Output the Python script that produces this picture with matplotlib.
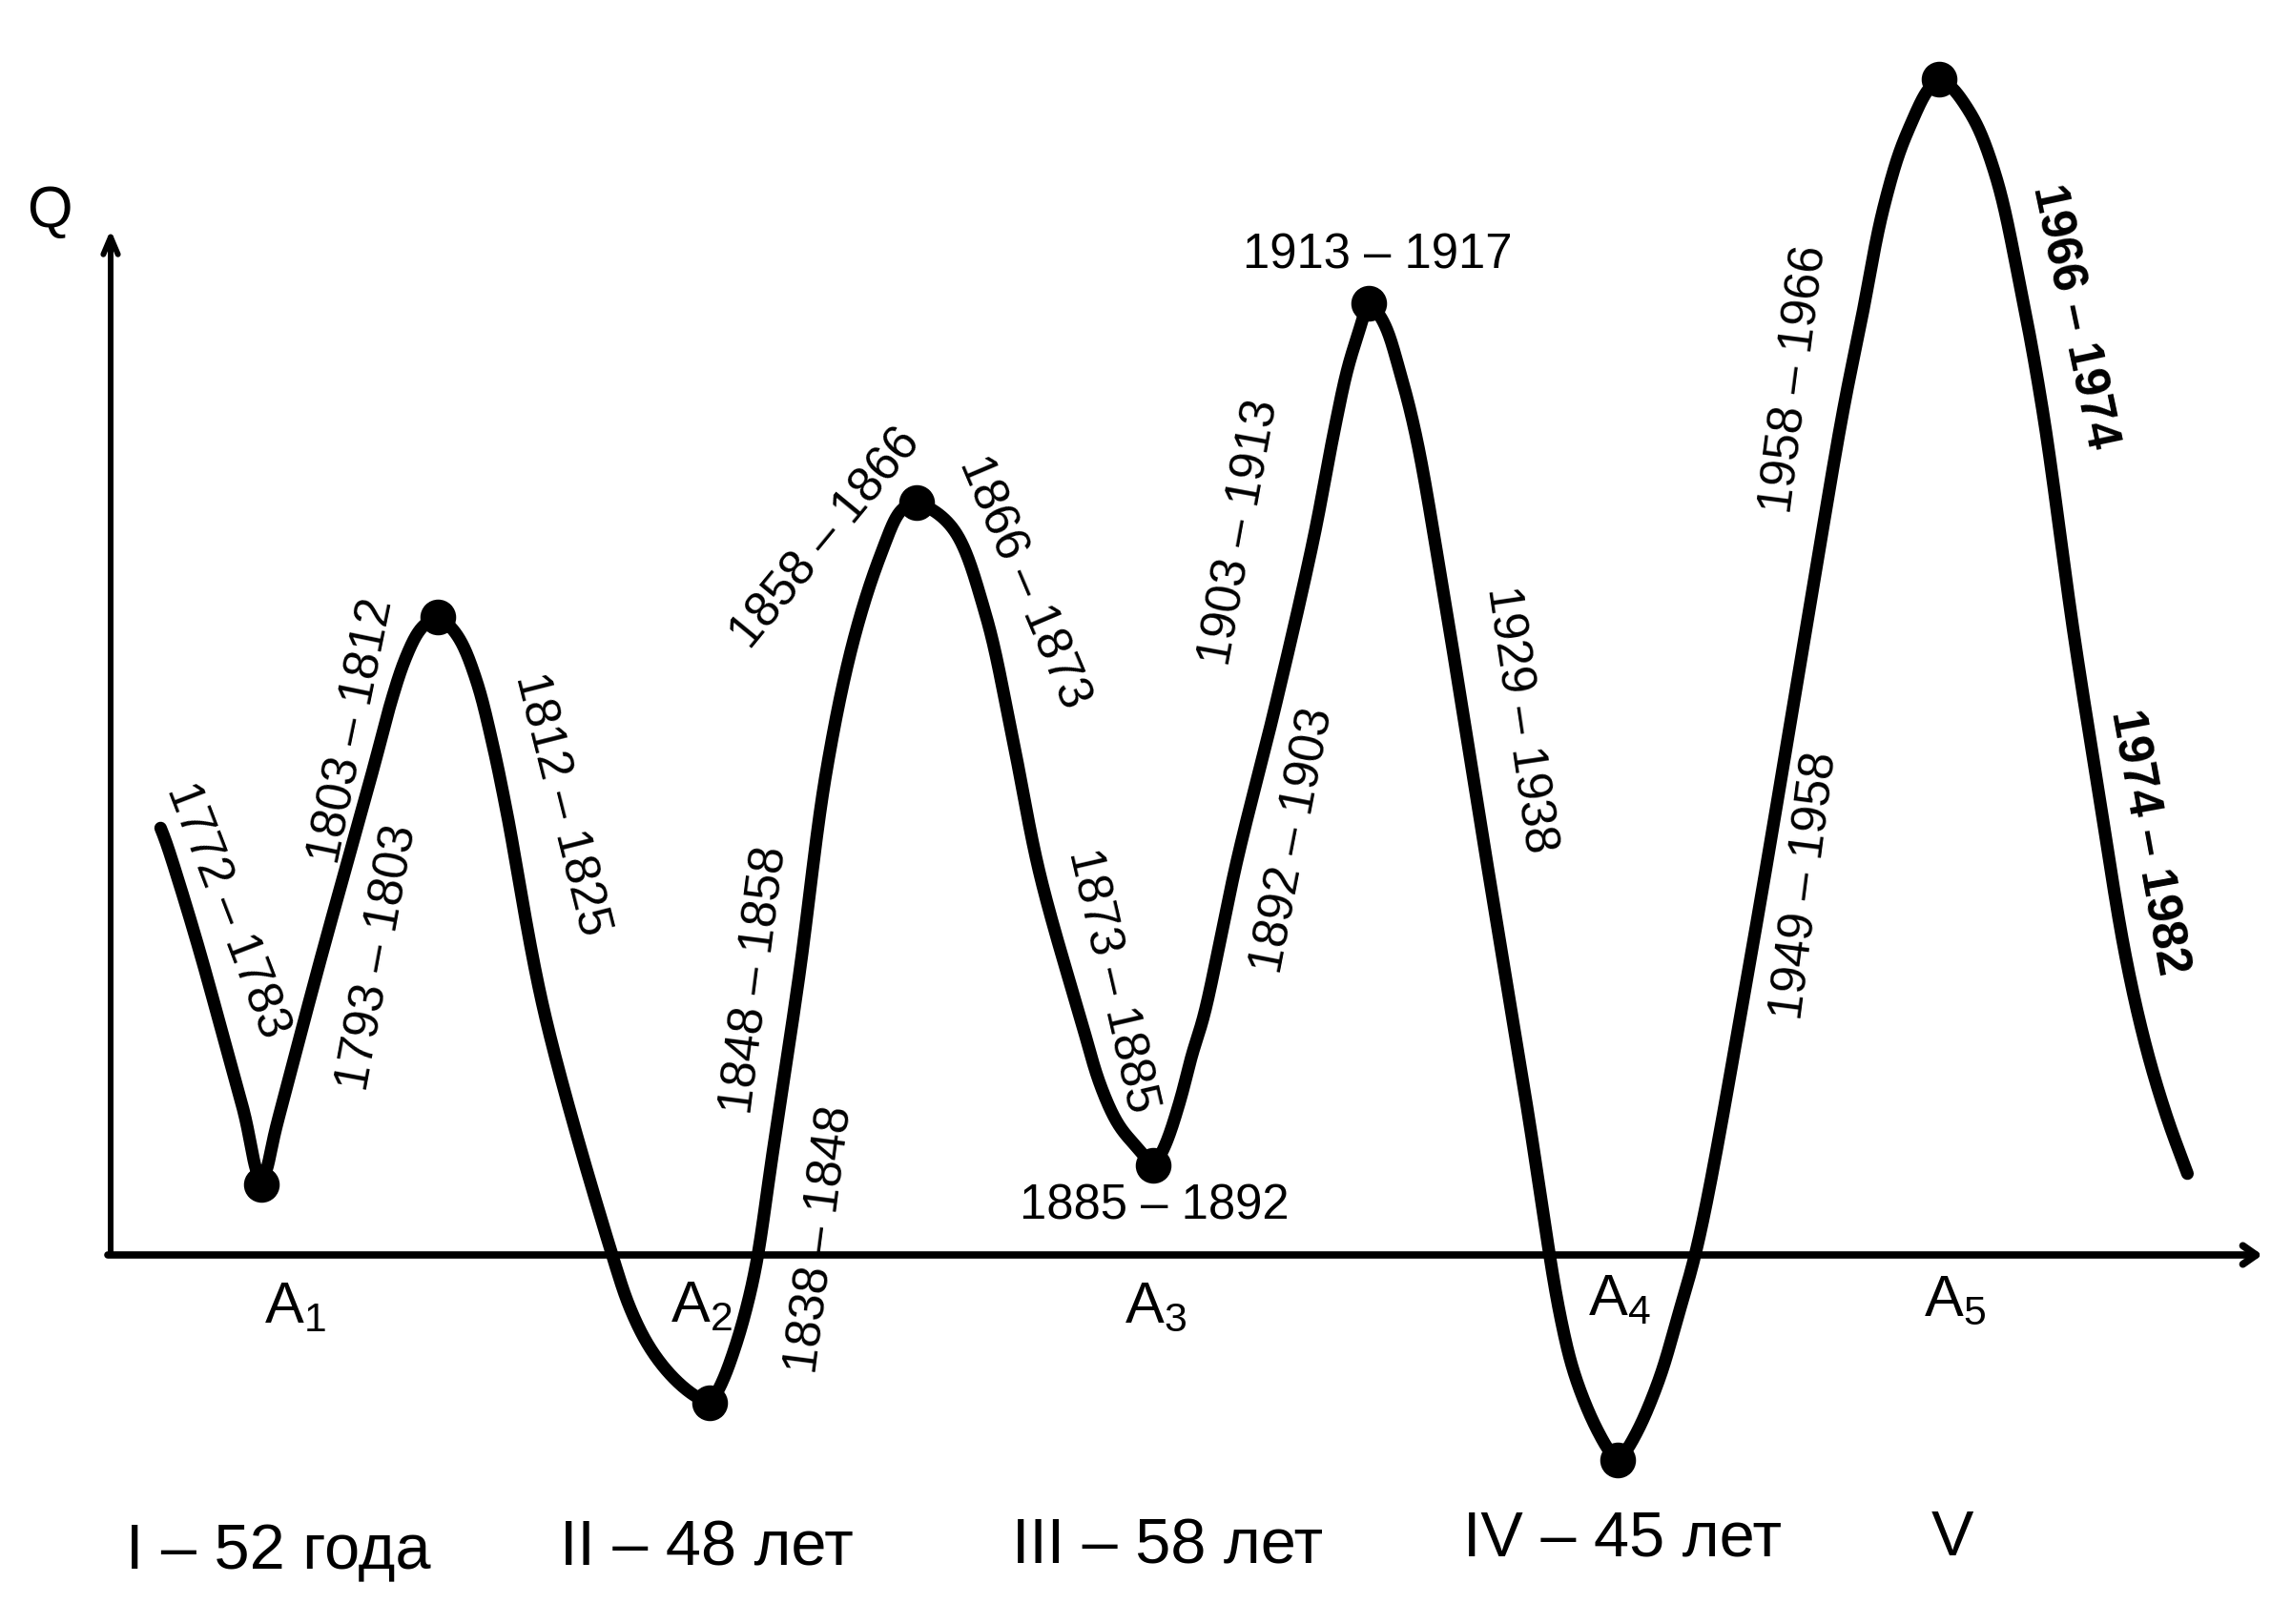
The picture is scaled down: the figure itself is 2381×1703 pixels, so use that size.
import numpy as np
import matplotlib
matplotlib.use("Agg")
import matplotlib.pyplot as plt

plt.rcParams['font.family'] = ['Liberation Sans', 'DejaVu Sans']

# ---------------- data ----------------
# wave path (x position, Q level; Q = 0 on the time axis)
curve_x = [167, 172, 190, 210, 233, 256, 274, 290, 335, 393, 410, 426, 443, 459,
           479, 499, 516, 531, 571, 644, 661, 681, 704, 727, 744, 756, 769, 781, 793,
           810, 838, 866, 895, 924, 947, 961, 998, 1033, 1062, 1090, 1134, 1154, 1174,
           1194, 1209, 1220, 1237, 1250, 1262, 1297, 1337, 1377, 1398, 1413, 1426, 1435,
           1450, 1468, 1485, 1511, 1560, 1601, 1636, 1653, 1679, 1696, 1713, 1739,
           1759, 1781, 1837, 1893, 1932, 1952, 1975, 2000, 2033, 2065, 2092, 2118,
           2142, 2174, 2200, 2228, 2250, 2272, 2295]
curve_q = [451, 439, 383, 316, 233, 149, 76, 136, 306, 516, 580, 628, 660, 669,
           651, 604, 538, 466, 253, -7, -57, -97, -127, -147, -155, -136, -102, -62, -9,
           106, 294, 505, 645, 736, 785, 789, 764, 673, 540, 400, 244, 177, 134,
           111, 94, 111, 161, 211, 250, 414, 575, 750, 860, 930, 972, 998,
           980, 925, 857, 709, 405, 155, -65, -132, -192, -215, -192, -132,
           -65, 16, 321, 653, 883, 983, 1099, 1178, 1233, 1199, 1133, 1016,
           883, 653, 487, 316, 218, 144, 81]

# turning points marked with dots
turn_x = [274, 459, 744, 961, 1209, 1435, 1696, 2033]
turn_q = [74, 669, -155, 789, 94, 998, -215, 1233]

# phase labels along the wave
phase_labels = ['1772 – 1783', '1793 – 1803', '1803 – 1812', '1812 – 1825',
                '1838 – 1848', '1848 – 1858', '1858 – 1866', '1866 – 1873',
                '1873 – 1885', '1885 – 1892', '1892 – 1903', '1903 – 1913',
                '1913 – 1917', '1929 – 1938', '1949 – 1958', '1958 – 1966',
                '1966 – 1974', '1974 – 1982']
phase_pos_x = [238, 397, 370, 588, 860, 792, 866, 1073, 1165, 1210, 1356, 1300,
               1444, 1593, 1893, 1882, 2174, 2252]
phase_pos_q = [361, 311, 549, 473, 16, 288, 751, 705, 288, 51, 434, 757,
               1048, 561, 387, 918, 984, 433]
phase_rot = [-69, 79.6, 78.4, -75.8, 82.6, 82.7, 50.5, -67, -77, 0, 79, 79.7,
             0, -81.6, 82.7, 82.7, -78, -79.7]
phase_bold = [False] * 16 + [True, True]

# trough markers on the time axis
a_labels = ['1', '2', '3', '4', '5']
a_pos_x = [309, 735, 1212, 1698, 2050]
a_pos_q = [-56, -55, -55, -48, -48]

# long-wave periods
period_labels = ['I – 52 года', 'II – 48 лет', 'III – 58 лет', 'IV – 45 лет', 'V']
period_pos_x = [292, 741, 1224, 1701, 2047]
period_pos_q = [-312, -309, -306, -298, -298]


def catmull_rom(px, py, n_seg=60, alpha=0.5):
    P = np.column_stack([px, py]).astype(float)
    P = np.vstack([2 * P[0] - P[1], P, 2 * P[-1] - P[-2]])
    out = []
    for i in range(1, len(P) - 2):
        p0, p1, p2, p3 = P[i - 1], P[i], P[i + 1], P[i + 2]
        t0 = 0.0
        t1 = t0 + np.linalg.norm(p1 - p0) ** alpha
        t2 = t1 + np.linalg.norm(p2 - p1) ** alpha
        t3 = t2 + np.linalg.norm(p3 - p2) ** alpha
        t = np.linspace(t1, t2, n_seg, endpoint=False)[:, None]
        a1 = (t1 - t) / (t1 - t0) * p0 + (t - t0) / (t1 - t0) * p1
        a2 = (t2 - t) / (t2 - t1) * p1 + (t - t1) / (t2 - t1) * p2
        a3 = (t3 - t) / (t3 - t2) * p2 + (t - t2) / (t3 - t2) * p3
        b1 = (t2 - t) / (t2 - t0) * a1 + (t - t0) / (t2 - t0) * a2
        b2 = (t3 - t) / (t3 - t1) * a2 + (t - t1) / (t3 - t1) * a3
        out.append((t2 - t) / (t2 - t1) * b1 + (t - t1) / (t2 - t1) * b2)
    out.append(P[-2][None, :])
    C = np.vstack(out)
    # resample by arc length and smooth lightly
    s = np.concatenate([[0], np.cumsum(np.hypot(*np.diff(C, axis=0).T))])
    su = np.arange(0, s[-1], 1.0)
    X = np.interp(su, s, C[:, 0])
    Y = np.interp(su, s, C[:, 1])
    sig = 9.0
    k = np.arange(-int(4 * sig), int(4 * sig) + 1)
    w = np.exp(-0.5 * (k / sig) ** 2)
    w /= w.sum()
    pad = len(k) // 2
    Xs = np.convolve(np.pad(X, pad, mode='edge'), w, mode='valid')
    Ys = np.convolve(np.pad(Y, pad, mode='edge'), w, mode='valid')
    return Xs, Ys


fig = plt.figure(figsize=(23.81, 17.03), dpi=100)
ax = fig.add_axes([0, 0, 1, 1])
ax.set_xlim(0, 2381)
ax.set_ylim(1316 - 1703, 1316)
ax.axis('off')

# axes with open arrowheads
ax.annotate('', xy=(116, 1316 - 241), xytext=(116, 0),
            arrowprops=dict(arrowstyle='->,head_length=1.3,head_width=0.55',
                            lw=4.3, color='black', shrinkA=0, shrinkB=0))
ax.annotate('', xy=(2372, 0), xytext=(113, 0),
            arrowprops=dict(arrowstyle='->,head_length=1.0,head_width=0.7',
                            lw=5.5, color='black', shrinkA=0, shrinkB=0))
ax.text(52, 1316 - 222, 'Q', fontsize=44, ha='center', va='center')

# the wave
cx, cy = catmull_rom(curve_x, curve_q)
ax.plot(cx, cy, color='black', lw=9.5, solid_capstyle='round',
        solid_joinstyle='round')
ax.plot(turn_x, turn_q, 'o', color='black', markersize=26)

for lab, x, q, r, b in zip(phase_labels, phase_pos_x, phase_pos_q, phase_rot, phase_bold):
    ax.text(x, q, lab, fontsize=36.5, rotation=r, rotation_mode='anchor',
            ha='center', va='center', fontweight='bold' if b else 'normal')

for lab, x, q in zip(a_labels, a_pos_x, a_pos_q):
    ax.text(x, q, r'$\mathregular{A_{' + lab + '}}$', fontsize=44,
            ha='center', va='center')

for lab, x, q in zip(period_labels, period_pos_x, period_pos_q):
    ax.text(x, q, lab, fontsize=48, ha='center', va='center')

fig.savefig('out.png', dpi=100, facecolor='white')
